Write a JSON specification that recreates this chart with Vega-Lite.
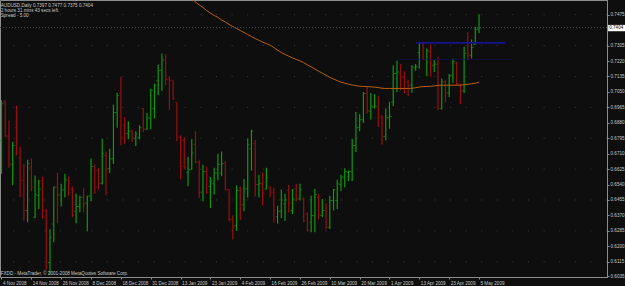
{
  "$schema": "https://vega.github.io/schema/vega-lite/v6.json",
  "width": 607,
  "height": 277,
  "autosize": {"type": "none"},
  "padding": {"left": 0, "top": 0, "right": 18, "bottom": 9},
  "background": "#0e0e0e",
  "config": {
    "view": {"stroke": "#8c8c8c", "strokeWidth": 1, "fill": "#0e0e0e"},
    "font": "Liberation Sans",
    "axis": {"title": null, "labelFont": "Liberation Sans", "labelFontSize": 4.6, "labelColor": "#c8c8c8", "domainColor": "#8c8c8c", "tickColor": "#8c8c8c", "tickSize": 2, "labelPadding": 1, "labelOverlap": false, "labelFlush": false, "grid": false}
  },
  "data": {"values": [
    {"i":0,"o":0.6783,"h":0.7004,"l":0.6599,"c":0.6985},
    {"i":1,"o":0.6995,"h":0.7004,"l":0.6801,"c":0.6807},
    {"i":2,"o":0.6807,"h":0.6893,"l":0.6632,"c":0.6654},
    {"i":3,"o":0.6649,"h":0.6776,"l":0.6536,"c":0.6755},
    {"i":4,"o":0.6853,"h":0.6976,"l":0.6700,"c":0.6720},
    {"i":5,"o":0.6687,"h":0.6750,"l":0.6470,"c":0.6479},
    {"i":6,"o":0.6562,"h":0.6654,"l":0.6341,"c":0.6397},
    {"i":7,"o":0.6397,"h":0.6676,"l":0.6332,"c":0.6654},
    {"i":8,"o":0.6636,"h":0.6685,"l":0.6503,"c":0.6525},
    {"i":9,"o":0.6360,"h":0.6590,"l":0.6354,"c":0.6485},
    {"i":10,"o":0.6479,"h":0.6566,"l":0.6406,"c":0.6516},
    {"i":11,"o":0.6562,"h":0.6584,"l":0.6352,"c":0.6360},
    {"i":12,"o":0.6397,"h":0.6406,"l":0.6070,"c":0.6120},
    {"i":13,"o":0.6110,"h":0.6294,"l":0.6045,"c":0.6250},
    {"i":14,"o":0.6323,"h":0.6529,"l":0.6222,"c":0.6525},
    {"i":15,"o":0.6525,"h":0.6605,"l":0.6327,"c":0.6483},
    {"i":16,"o":0.6483,"h":0.6544,"l":0.6419,"c":0.6511},
    {"i":17,"o":0.6511,"h":0.6599,"l":0.6470,"c":0.6566},
    {"i":18,"o":0.6562,"h":0.6584,"l":0.6479,"c":0.6544},
    {"i":19,"o":0.6516,"h":0.6529,"l":0.6360,"c":0.6369},
    {"i":20,"o":0.6393,"h":0.6489,"l":0.6327,"c":0.6419},
    {"i":21,"o":0.6419,"h":0.6479,"l":0.6387,"c":0.6470},
    {"i":22,"o":0.6470,"h":0.6522,"l":0.6387,"c":0.6433},
    {"i":23,"o":0.6439,"h":0.6479,"l":0.6283,"c":0.6476},
    {"i":24,"o":0.6479,"h":0.6684,"l":0.6448,"c":0.6640},
    {"i":25,"o":0.6640,"h":0.6651,"l":0.6489,"c":0.6525},
    {"i":26,"o":0.6617,"h":0.6632,"l":0.6513,"c":0.6547},
    {"i":27,"o":0.6547,"h":0.6792,"l":0.6540,"c":0.6709},
    {"i":28,"o":0.6700,"h":0.6722,"l":0.6481,"c":0.6498},
    {"i":29,"o":0.6627,"h":0.6737,"l":0.6603,"c":0.6680},
    {"i":30,"o":0.6682,"h":0.6980,"l":0.6654,"c":0.6936},
    {"i":31,"o":0.6936,"h":0.7046,"l":0.6853,"c":0.7031},
    {"i":32,"o":0.7041,"h":0.7133,"l":0.6755,"c":0.6801},
    {"i":33,"o":0.6866,"h":0.6912,"l":0.6765,"c":0.6820},
    {"i":34,"o":0.6823,"h":0.6888,"l":0.6789,"c":0.6834},
    {"i":35,"o":0.6834,"h":0.6842,"l":0.6774,"c":0.6798},
    {"i":36,"o":0.6792,"h":0.6834,"l":0.6752,"c":0.6820},
    {"i":37,"o":0.6801,"h":0.6866,"l":0.6789,"c":0.6853},
    {"i":38,"o":0.6958,"h":0.6961,"l":0.6829,"c":0.6847},
    {"i":39,"o":0.6842,"h":0.6934,"l":0.6842,"c":0.6908},
    {"i":40,"o":0.6906,"h":0.7068,"l":0.6844,"c":0.7059},
    {"i":41,"o":0.6958,"h":0.7096,"l":0.6903,"c":0.7087},
    {"i":42,"o":0.7112,"h":0.7201,"l":0.7031,"c":0.7169},
    {"i":43,"o":0.7169,"h":0.7261,"l":0.7055,"c":0.7225},
    {"i":44,"o":0.7225,"h":0.7258,"l":0.7087,"c":0.7118},
    {"i":45,"o":0.7123,"h":0.7136,"l":0.6952,"c":0.7114},
    {"i":46,"o":0.7114,"h":0.7114,"l":0.7007,"c":0.7013},
    {"i":47,"o":0.6993,"h":0.6993,"l":0.6779,"c":0.6801},
    {"i":48,"o":0.6801,"h":0.6811,"l":0.6568,"c":0.6640},
    {"i":49,"o":0.6783,"h":0.6801,"l":0.6627,"c":0.6636},
    {"i":50,"o":0.6605,"h":0.6691,"l":0.6531,"c":0.6621,"ma":0.7573},
    {"i":51,"o":0.6621,"h":0.6789,"l":0.6621,"c":0.6713,"ma":0.7562},
    {"i":52,"o":0.6761,"h":0.6834,"l":0.6658,"c":0.6663,"ma":0.7545},
    {"i":53,"o":0.6663,"h":0.6673,"l":0.6467,"c":0.6498,"ma":0.7529},
    {"i":54,"o":0.6498,"h":0.6649,"l":0.6448,"c":0.6612,"ma":0.7515},
    {"i":55,"o":0.6612,"h":0.6640,"l":0.6489,"c":0.6498,"ma":0.7498},
    {"i":56,"o":0.6530,"h":0.6581,"l":0.6411,"c":0.6562,"ma":0.7484},
    {"i":57,"o":0.6544,"h":0.6632,"l":0.6485,"c":0.6603,"ma":0.7471},
    {"i":58,"o":0.6603,"h":0.6709,"l":0.6562,"c":0.6651,"ma":0.7460},
    {"i":59,"o":0.6603,"h":0.6722,"l":0.6586,"c":0.6654,"ma":0.7446},
    {"i":60,"o":0.6654,"h":0.6669,"l":0.6507,"c":0.6511,"ma":0.7435},
    {"i":61,"o":0.6511,"h":0.6516,"l":0.6338,"c":0.6347,"ma":0.7421},
    {"i":62,"o":0.6347,"h":0.6369,"l":0.6237,"c":0.6305,"ma":0.7410},
    {"i":63,"o":0.6314,"h":0.6535,"l":0.6286,"c":0.6507,"ma":0.7399},
    {"i":64,"o":0.6507,"h":0.6529,"l":0.6345,"c":0.6428,"ma":0.7388},
    {"i":65,"o":0.6428,"h":0.6571,"l":0.6393,"c":0.6516,"ma":0.7377},
    {"i":66,"o":0.6516,"h":0.6792,"l":0.6467,"c":0.6759,"ma":0.7366},
    {"i":67,"o":0.6737,"h":0.6842,"l":0.6617,"c":0.6834,"ma":0.7355},
    {"i":68,"o":0.6765,"h":0.6787,"l":0.6474,"c":0.6540,"ma":0.7344},
    {"i":69,"o":0.6540,"h":0.6594,"l":0.6470,"c":0.6547,"ma":0.7334},
    {"i":70,"o":0.6544,"h":0.6606,"l":0.6424,"c":0.6489,"ma":0.7324},
    {"i":71,"o":0.6516,"h":0.6632,"l":0.6513,"c":0.6577,"ma":0.7316},
    {"i":72,"o":0.6525,"h":0.6531,"l":0.6470,"c":0.6498,"ma":0.7308},
    {"i":73,"o":0.6498,"h":0.6522,"l":0.6332,"c":0.6397,"ma":0.7294},
    {"i":74,"o":0.6363,"h":0.6424,"l":0.6325,"c":0.6393,"ma":0.7280},
    {"i":75,"o":0.6393,"h":0.6513,"l":0.6356,"c":0.6455,"ma":0.7267},
    {"i":76,"o":0.6433,"h":0.6489,"l":0.6341,"c":0.6455,"ma":0.7256},
    {"i":77,"o":0.6507,"h":0.6538,"l":0.6387,"c":0.6439,"ma":0.7247},
    {"i":78,"o":0.6397,"h":0.6516,"l":0.6378,"c":0.6461,"ma":0.7237},
    {"i":79,"o":0.6516,"h":0.6544,"l":0.6446,"c":0.6461,"ma":0.7229},
    {"i":80,"o":0.6461,"h":0.6544,"l":0.6452,"c":0.6511,"ma":0.7221},
    {"i":81,"o":0.6461,"h":0.6470,"l":0.6332,"c":0.6341,"ma":0.7211},
    {"i":82,"o":0.6378,"h":0.6387,"l":0.6281,"c":0.6286,"ma":0.7199},
    {"i":83,"o":0.6332,"h":0.6479,"l":0.6277,"c":0.6369,"ma":0.7188},
    {"i":84,"o":0.6369,"h":0.6516,"l":0.6277,"c":0.6485,"ma":0.7176},
    {"i":85,"o":0.6470,"h":0.6489,"l":0.6347,"c":0.6378,"ma":0.7164},
    {"i":86,"o":0.6369,"h":0.6461,"l":0.6360,"c":0.6397,"ma":0.7153},
    {"i":87,"o":0.6397,"h":0.6439,"l":0.6295,"c":0.6305,"ma":0.7142},
    {"i":88,"o":0.6305,"h":0.6479,"l":0.6295,"c":0.6452,"ma":0.7130},
    {"i":89,"o":0.6452,"h":0.6516,"l":0.6397,"c":0.6511,"ma":0.7121},
    {"i":90,"o":0.6452,"h":0.6566,"l":0.6406,"c":0.6544,"ma":0.7112},
    {"i":91,"o":0.6540,"h":0.6594,"l":0.6503,"c":0.6581,"ma":0.7104},
    {"i":92,"o":0.6581,"h":0.6630,"l":0.6525,"c":0.6612,"ma":0.7098},
    {"i":93,"o":0.6608,"h":0.6617,"l":0.6559,"c":0.6612,"ma":0.7093},
    {"i":94,"o":0.6612,"h":0.6792,"l":0.6559,"c":0.6755,"ma":0.7088},
    {"i":95,"o":0.6755,"h":0.6939,"l":0.6719,"c":0.6853,"ma":0.7085},
    {"i":96,"o":0.6853,"h":0.6927,"l":0.6834,"c":0.6897,"ma":0.7081},
    {"i":97,"o":0.6897,"h":0.7050,"l":0.6879,"c":0.7041,"ma":0.7080},
    {"i":98,"o":0.7041,"h":0.7077,"l":0.6930,"c":0.6945,"ma":0.7079},
    {"i":99,"o":0.6945,"h":0.7044,"l":0.6897,"c":0.6971,"ma":0.7078},
    {"i":100,"o":0.6967,"h":0.7037,"l":0.6958,"c":0.6971,"ma":0.7076},
    {"i":101,"o":0.6967,"h":0.7026,"l":0.6857,"c":0.6921,"ma":0.7074},
    {"i":102,"o":0.6912,"h":0.6921,"l":0.6761,"c":0.6805,"ma":0.7070},
    {"i":103,"o":0.6805,"h":0.6958,"l":0.6783,"c":0.6908,"ma":0.7069},
    {"i":104,"o":0.6908,"h":0.6995,"l":0.6847,"c":0.6915,"ma":0.7069},
    {"i":105,"o":0.6995,"h":0.7197,"l":0.6971,"c":0.7151,"ma":0.7069},
    {"i":106,"o":0.7151,"h":0.7221,"l":0.7050,"c":0.7160,"ma":0.7069},
    {"i":107,"o":0.7150,"h":0.7203,"l":0.7059,"c":0.7129,"ma":0.7069},
    {"i":108,"o":0.7133,"h":0.7164,"l":0.7041,"c":0.7068,"ma":0.7069},
    {"i":109,"o":0.7105,"h":0.7114,"l":0.7028,"c":0.7087,"ma":0.7069},
    {"i":110,"o":0.7087,"h":0.7197,"l":0.7046,"c":0.7188,"ma":0.7070},
    {"i":111,"o":0.7182,"h":0.7203,"l":0.7166,"c":0.7188,"ma":0.7073},
    {"i":112,"o":0.7267,"h":0.7320,"l":0.7179,"c":0.7317,"ma":0.7077},
    {"i":113,"o":0.7317,"h":0.7320,"l":0.7225,"c":0.7228,"ma":0.7079},
    {"i":114,"o":0.7228,"h":0.7289,"l":0.7136,"c":0.7276,"ma":0.7080},
    {"i":115,"o":0.7271,"h":0.7311,"l":0.7133,"c":0.7197,"ma":0.7081},
    {"i":116,"o":0.7197,"h":0.7225,"l":0.7160,"c":0.7203,"ma":0.7083},
    {"i":117,"o":0.7203,"h":0.7243,"l":0.6949,"c":0.6958,"ma":0.7086},
    {"i":118,"o":0.6958,"h":0.7124,"l":0.6954,"c":0.7105,"ma":0.7087},
    {"i":119,"o":0.7105,"h":0.7114,"l":0.6995,"c":0.7041,"ma":0.7087},
    {"i":120,"o":0.7046,"h":0.7148,"l":0.7022,"c":0.7142,"ma":0.7087},
    {"i":121,"o":0.7142,"h":0.7234,"l":0.7100,"c":0.7216,"ma":0.7087},
    {"i":122,"o":0.7206,"h":0.7216,"l":0.7087,"c":0.7096,"ma":0.7087},
    {"i":123,"o":0.7087,"h":0.7096,"l":0.6982,"c":0.7056,"ma":0.7087},
    {"i":124,"o":0.7056,"h":0.7298,"l":0.7044,"c":0.7262,"ma":0.7090},
    {"i":125,"o":0.7262,"h":0.7378,"l":0.7225,"c":0.7252,"ma":0.7092},
    {"i":126,"o":0.7252,"h":0.7339,"l":0.7234,"c":0.7295,"ma":0.7095},
    {"i":127,"o":0.7311,"h":0.7409,"l":0.7311,"c":0.7394,"ma":0.7098},
    {"i":128,"o":0.7397,"h":0.7477,"l":0.7375,"c":0.7404,"ma":0.7103}
  ]},
  "encoding": {
    "x": {"field": "i", "type": "quantitative",
      "scale": {"domain": [-0.4, 162.3], "nice": false, "zero": false},
      "axis": {"orient": "bottom", "values": [0,8,16,24,32,40,48,56,64,72,80,88,96,104,112,120,128], "tickCount": 100, "grid": false, "labelAlign": "left", "labelOffset": 1, "labelOverlap": false,
        "labelExpr": "['4 Nov 2008','14 Nov 2008','26 Nov 2008','8 Dec 2008','18 Dec 2008','31 Dec 2008','13 Jan 2009','23 Jan 2009','4 Feb 2009','16 Feb 2009','26 Feb 2009','10 Mar 2009','20 Mar 2009','1 Apr 2009','13 Apr 2009','23 Apr 2009','5 May 2009'][round(datum.value/8)]"}}
  },
  "layer": [
    {
      "data": {"values": [{"g":0.6115},{"g":0.6285},{"g":0.6455},{"g":0.6625},{"g":0.6795},{"g":0.6965},{"g":0.7135},{"g":0.7305},{"g":0.7475}]},
      "mark": {"type": "rule", "color": "#3c3c3c", "strokeWidth": 1, "strokeDash": [1, 14.6]},
      "encoding": {"x": null, "y": {"field": "g", "type": "quantitative"}}
    },
    {
      "mark": {"type": "rule", "strokeWidth": 1.2},
      "encoding": {
        "y": {"field": "h", "type": "quantitative",
          "scale": {"domain": [0.6031, 0.7556], "nice": false, "zero": false},
          "axis": {"orient": "right", "format": ".4f", "labelOverlap": false, "labelBound": false, "grid": false, "tickCount": 100,
            "values": [0.6035,0.6115,0.62,0.6285,0.637,0.6455,0.654,0.6625,0.671,0.6795,0.688,0.6965,0.705,0.7135,0.722,0.7305,0.7475]}},
        "y2": {"field": "l"},
        "color": {"condition": {"test": "datum.c >= datum.o", "value": "#0f990f"}, "value": "#990f0f"}
      }
    },
    {
      "mark": {"type": "tick", "orient": "horizontal", "size": 1.6, "thickness": 1, "xOffset": -1.2},
      "encoding": {
        "y": {"field": "o", "type": "quantitative"},
        "color": {"condition": {"test": "datum.c >= datum.o", "value": "#0f990f"}, "value": "#990f0f"}
      }
    },
    {
      "mark": {"type": "tick", "orient": "horizontal", "size": 1.6, "thickness": 1, "xOffset": 1.2},
      "encoding": {
        "y": {"field": "c", "type": "quantitative"},
        "color": {"condition": {"test": "datum.c >= datum.o", "value": "#0f990f"}, "value": "#990f0f"}
      }
    },
    {
      "transform": [{"filter": "isValid(datum.ma)"}],
      "mark": {"type": "line", "color": "#b8600c", "strokeWidth": 1, "clip": true},
      "encoding": {"y": {"field": "ma", "type": "quantitative"}}
    },
    {
      "data": {"values": [{"p": 0.7404}]},
      "mark": {"type": "rule", "color": "#4a4a4a", "strokeWidth": 1, "strokeDash": [1, 2]},
      "encoding": {"x": null, "y": {"field": "p", "type": "quantitative"}}
    },
    {
      "data": {"values": [{"from": 106, "to": 136.4, "p": 0.7229}]},
      "mark": {"type": "rule", "color": "#10105a", "strokeWidth": 0.7},
      "encoding": {"x": {"field": "from", "type": "quantitative"}, "x2": {"field": "to"}, "y": {"field": "p", "type": "quantitative"}}
    },
    {
      "data": {"values": [{"from": 111.1, "to": 135, "p": 0.732}]},
      "mark": {"type": "rule", "color": "#141490", "strokeWidth": 1.6},
      "encoding": {"x": {"field": "from", "type": "quantitative"}, "x2": {"field": "to"}, "y": {"field": "p", "type": "quantitative"}}
    },
    {
      "data": {"values": [{"a": 162.6, "b": 167.2, "top": 0.7419, "bot": 0.7384}]},
      "mark": {"type": "rect", "color": "#ffffff"},
      "encoding": {"x": {"field": "a", "type": "quantitative"}, "x2": {"field": "b"}, "y": {"field": "top", "type": "quantitative"}, "y2": {"field": "bot"}}
    },
    {
      "data": {"values": [{"a": 162.9, "p": 0.7404, "t": "0.7404"}]},
      "mark": {"type": "text", "color": "#000000", "fontSize": 4.6, "align": "left", "baseline": "middle"},
      "encoding": {"x": {"field": "a", "type": "quantitative"}, "y": {"field": "p", "type": "quantitative"}, "text": {"field": "t"}}
    },
    {
      "data": {"values": [{"a": -0.2, "p": 0.7556, "t": "AUDUSD,Daily  0.7397 0.7477 0.7375 0.7404\n2 hours 31 mins 43 secs left.\nSpread - 5.00"}]},
      "mark": {"type": "text", "color": "#c8c8c8", "fontSize": 4.6, "align": "left", "baseline": "top", "lineBreak": "\n", "lineHeight": 5, "dy": 2.5},
      "encoding": {"x": {"field": "a", "type": "quantitative"}, "y": {"field": "p", "type": "quantitative"}, "text": {"field": "t"}}
    },
    {
      "data": {"values": [{"a": -0.2, "p": 0.6031, "t": "FXDD - MetaTrader, © 2001-2008 MetaQuotes Software Corp."}]},
      "mark": {"type": "text", "color": "#c8c8c8", "fontSize": 4.6, "align": "left", "baseline": "bottom", "dy": -1.5},
      "encoding": {"x": {"field": "a", "type": "quantitative"}, "y": {"field": "p", "type": "quantitative"}, "text": {"field": "t"}}
    }
  ]
}
